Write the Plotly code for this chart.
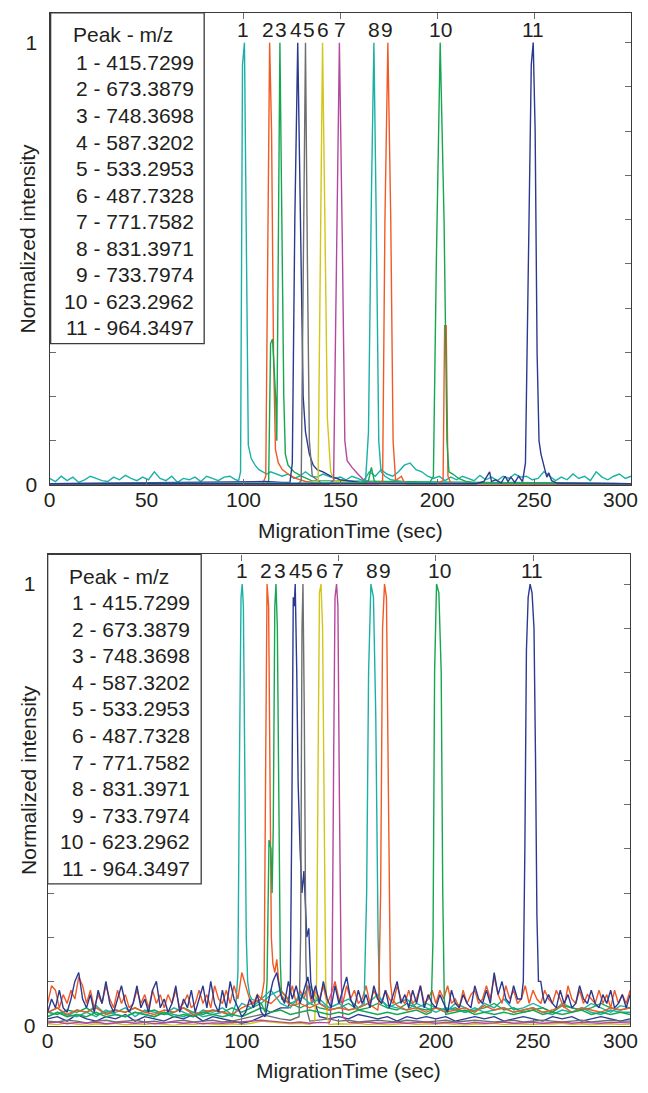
import plotly.graph_objects as go

# page is 648x1093; the html body keeps its default 8px margin, so the figure is 16px smaller
PAGE_W, PAGE_H = 648, 1093
OFF = 8
W, H = PAGE_W - 2 * OFF, PAGE_H - 2 * OFF
FONT = "Liberation Sans, Arial, sans-serif"
TXT = "#231f20"
FS = 21

peak_ids = ["1", "2", "3", "4", "5", "6", "7", "8", "9", "10", "11"]
mz_values = ["415.7299", "673.3879", "748.3698", "587.3202", "533.2953", "487.7328",
             "771.7582", "831.3971", "733.7974", "623.2962", "964.3497"]
label_t = [100.0, 112.7, 119.5, 127.2, 133.7, 141.2, 149.6, 167.2, 174.0, 201.7, 249.6]
colors = ["#1bb0a6", "#f15a24", "#15a650", "#2b3990", "#6d6e71", "#d2c619",
          "#b4489c", "#1bb0a6", "#f15a24", "#15a650", "#2b3990"]

x_ticks = [0, 50, 100, 150, 200, 250, 300]
x_ticktext = ["0", "50", "100", "150", "200", "250", ""]   # "300" is drawn as an edge label
x_last_label = "300"
y_ticks = [0, 0.1, 0.2, 0.3, 0.4, 0.5, 0.6, 0.7, 0.8, 0.9, 1.0]
y_ticktext = ["0", "", "", "", "", "", "", "", "", "", "1"]

# ---------------- TOP PANEL ----------------
T3 = list(range(0, 301, 3))
top_noise_teal = [
    0.015, 0.008, 0.02, 0.01, 0.018, 0.006, 0.012, 0.02, 0.015, 0.01,
    0.008, 0.018, 0.012, 0.022, 0.015, 0.01, 0.018, 0.012, 0.03, 0.015,
    0.01, 0.02, 0.006, 0.015, 0.012, 0.018, 0.008, 0.02, 0.015, 0.01,
    0.018, 0.02, 0.012, 0.02, 0.02, 0.02, 0.02, 0.02, 0.03, 0.025,
    0.02, 0.025, 0.015, 0.02, 0.03, 0.02, 0.018, 0.025, 0.02, 0.015,
    0.018, 0.012, 0.02, 0.015, 0.01, 0.03, 0.02, 0.035, 0.025, 0.02,
    0.03, 0.045, 0.05, 0.035, 0.03, 0.02, 0.015, 0.02, 0.01, 0.018,
    0.012, 0.02, 0.015, 0.01, 0.022, 0.012, 0.018, 0.01, 0.02, 0.015,
    0.025, 0.018, 0.02, 0.012, 0.015, 0.03, 0.02, 0.01, 0.018, 0.012,
    0.025, 0.015, 0.02, 0.01, 0.03, 0.018, 0.012, 0.02, 0.025, 0.015,
    0.02]

top_t = [
    [97.5, 98.5, 99.5, 100.5, 101.5, 102.5, 104, 106, 108, 110, 112],
    [0, 105, 110, 111.5, 112.5, 113.5, 114.5, 115.5, 116.5, 118, 120, 123, 127, 132, 140, 300],
    [0, 112, 113, 114, 115, 116.6, 117.2, 118, 118.8, 119.8, 120.8, 121.6, 123, 126, 130, 135, 300],
    [0, 111, 120, 124, 125.2, 126.5, 128, 129.5, 130.8, 132, 134, 136, 138, 141, 145, 150, 160, 170, 300],
    [0, 128, 129.8, 131, 132, 133, 134, 135.5, 140, 300],
    [0, 136, 138.5, 139.8, 140.8, 142, 143.3, 145, 147, 155, 300],
    [0, 144, 146.5, 148, 149.5, 151, 152.3, 153.5, 156, 159, 162, 166, 300],
    [0, 160, 163, 164.5, 166, 167.3, 168.5, 169.8, 171, 173, 176, 185, 300],
    [0, 170, 171.8, 173, 174.5, 176, 177.2, 178.5, 181.5, 182.5, 184, 200, 203, 203.8, 204.6, 205.5, 207, 300],
    [0, 160, 164.5, 166, 167.5, 169, 190, 196, 198, 199.5, 201.5, 203.5, 205, 206, 208, 211, 215, 220, 300],
    [0, 220, 224, 227, 228, 230, 233, 235, 236.5, 238, 240, 242, 244, 245.5, 247, 248.5, 249.5,
     250.5, 251.5, 252.5, 253.5, 255, 256.5, 257.5, 259, 262, 300],
]
top_v = [
    [0.01, 0.03, 0.95, 1.0, 0.55, 0.09, 0.06, 0.045, 0.035, 0.03, 0.025],
    [0.003, 0.003, 0.004, 0.02, 0.5, 1.0, 0.8, 0.3, 0.08, 0.05, 0.035, 0.025, 0.015, 0.008, 0.004, 0.003],
    [0.003, 0.003, 0.01, 0.32, 0.33, 0.2, 0.1, 0.6, 1.0, 0.6, 0.2, 0.07, 0.045, 0.03, 0.02, 0.01, 0.003],
    [0.003, 0.008, 0.006, 0.006, 0.05, 0.6, 1.0, 0.6, 0.2, 0.12, 0.07, 0.045, 0.035, 0.03, 0.02, 0.012, 0.006, 0.004, 0.003],
    [0.002, 0.002, 0.01, 0.6, 1.0, 0.5, 0.1, 0.02, 0.005, 0.002],
    [0.002, 0.002, 0.01, 0.6, 1.0, 0.6, 0.15, 0.03, 0.01, 0.004, 0.002],
    [0.002, 0.002, 0.01, 0.55, 1.0, 0.55, 0.1, 0.055, 0.04, 0.025, 0.012, 0.004, 0.002],
    [0.003, 0.005, 0.01, 0.12, 0.65, 1.0, 0.6, 0.1, 0.03, 0.02, 0.012, 0.006, 0.003],
    [0.003, 0.003, 0.01, 0.6, 1.0, 0.6, 0.1, 0.01, 0.02, 0.01, 0.003, 0.003, 0.01, 0.36, 0.36, 0.02, 0.004, 0.003],
    [0.003, 0.004, 0.01, 0.04, 0.01, 0.004, 0.004, 0.005, 0.02, 0.5, 1.0, 0.6, 0.1, 0.03, 0.025, 0.015, 0.008, 0.004, 0.003],
    [0.003, 0.003, 0.008, 0.03, 0.008, 0.012, 0.005, 0.02, 0.008, 0.018, 0.006, 0.02, 0.008, 0.05, 0.5,
     0.95, 1.0, 0.8, 0.3, 0.1, 0.07, 0.045, 0.018, 0.028, 0.01, 0.004, 0.003],
]

# ---------------- BOTTOM PANEL ----------------
T2 = list(range(0, 301, 2))
T5 = list(range(0, 301, 5))

bot_noise_navy11 = [
    0.03, 0.06, 0.04, 0.08, 0.04, 0.03, 0.06, 0.10, 0.12, 0.06,
    0.04, 0.07, 0.03, 0.08, 0.05, 0.10, 0.05, 0.03, 0.06, 0.09,
    0.05, 0.03, 0.05, 0.09, 0.04, 0.06, 0.03, 0.08, 0.10, 0.04,
    0.06, 0.03, 0.05, 0.09, 0.03, 0.06, 0.04, 0.08, 0.03, 0.06,
    0.09, 0.04, 0.10, 0.05, 0.03, 0.08, 0.04, 0.10, 0.06, 0.04,
    0.02, 0.03, 0.06, 0.04, 0.07, 0.03, 0.02, 0.06, 0.10, 0.12,
    0.07, 0.05, 0.10, 0.06, 0.09, 0.05, 0.08, 0.11, 0.06, 0.09,
    0.05, 0.10, 0.06, 0.04, 0.09, 0.05, 0.08, 0.11, 0.06, 0.04,
    0.08, 0.05, 0.07, 0.04, 0.09, 0.06, 0.05, 0.08, 0.04, 0.07,
    0.10, 0.05, 0.07, 0.04, 0.08, 0.05, 0.09, 0.04, 0.07, 0.05,
    0.04, 0.07, 0.05, 0.03, 0.08, 0.05, 0.04, 0.07, 0.05, 0.04,
    0.09, 0.06, 0.05, 0.08, 0.05, 0.12, 0.07, 0.10, 0.06, 0.05,
    0.09, 0.06, 0.05, 0.04, 0.05, 0.06, 0.05, 0.07, 0.05, 0.07,
    0.05, 0.04, 0.08, 0.05, 0.07, 0.04, 0.05, 0.09, 0.06, 0.05,
    0.08, 0.05, 0.04, 0.07, 0.05, 0.08, 0.04, 0.05, 0.07, 0.04,
    0.07]
bot_noise_orange2 = [
    0.05, 0.09, 0.08, 0.04, 0.07, 0.05, 0.08, 0.06, 0.11, 0.09,
    0.05, 0.08, 0.04, 0.07, 0.05, 0.09, 0.06, 0.04, 0.08, 0.05,
    0.07, 0.04, 0.05, 0.08, 0.05, 0.07, 0.04, 0.08, 0.05, 0.07,
    0.04, 0.07, 0.05, 0.08, 0.04, 0.05, 0.07, 0.04, 0.05, 0.08,
    0.05, 0.07, 0.04, 0.09, 0.06, 0.05, 0.08, 0.05, 0.09, 0.06,
    0.12, 0.09, 0.06, 0.05, 0.07, 0.06, 0.08, 0.10, 0.14, 0.12,
    0.09, 0.07, 0.06, 0.09, 0.05, 0.08, 0.06, 0.09, 0.05, 0.08,
    0.06, 0.09, 0.05, 0.07, 0.10, 0.06, 0.05, 0.09, 0.06, 0.08,
    0.05, 0.06, 0.09, 0.05, 0.08, 0.06, 0.05, 0.08, 0.06, 0.05,
    0.09, 0.06, 0.05, 0.08, 0.05, 0.06, 0.09, 0.05, 0.06, 0.08,
    0.05, 0.08, 0.06, 0.09, 0.05, 0.06, 0.04, 0.08, 0.05, 0.07,
    0.08, 0.05, 0.06, 0.09, 0.06, 0.11, 0.07, 0.05, 0.09, 0.06,
    0.08, 0.05, 0.06, 0.09, 0.05, 0.08, 0.06, 0.05, 0.08, 0.06,
    0.05, 0.08, 0.06, 0.04, 0.09, 0.06, 0.05, 0.08, 0.05, 0.07,
    0.06, 0.05, 0.08, 0.05, 0.07, 0.04, 0.08, 0.05, 0.07, 0.05,
    0.08]
bot_noise_teal1 = [
    0.03, 0.04, 0.02, 0.035, 0.03, 0.045, 0.025, 0.03, 0.04, 0.02,
    0.035, 0.03, 0.025, 0.04, 0.03, 0.02, 0.035, 0.03, 0.04, 0.025,
    0.08, 0.06, 0.05, 0.07, 0.08, 0.05, 0.06, 0.09, 0.05, 0.04,
    0.05, 0.06, 0.04, 0.05, 0.07, 0.04, 0.05, 0.06, 0.04, 0.05,
    0.04, 0.03, 0.05, 0.04, 0.03, 0.05, 0.04, 0.06, 0.035, 0.04,
    0.05, 0.04, 0.03, 0.05, 0.04, 0.035, 0.05, 0.04, 0.03, 0.045,
    0.04]
bot_noise_green3 = [
    0.03, 0.025, 0.035, 0.03, 0.04, 0.025, 0.03, 0.035, 0.03, 0.04,
    0.03, 0.035, 0.025, 0.03, 0.04, 0.03, 0.025, 0.035, 0.03, 0.04,
    0.03, 0.04, 0.05, 0.04, 0.06, 0.05, 0.04, 0.05, 0.04, 0.035,
    0.04, 0.05, 0.035, 0.04, 0.05, 0.04, 0.035, 0.05, 0.04, 0.035,
    0.04, 0.035, 0.04, 0.03, 0.035, 0.04, 0.05, 0.035, 0.04, 0.03,
    0.035, 0.04, 0.03, 0.045, 0.04, 0.035, 0.04, 0.05, 0.04, 0.035,
    0.04]
bot_noise_navy4 = [
    0.015, 0.02, 0.01, 0.025, 0.015, 0.01, 0.02, 0.015, 0.025, 0.01,
    0.02, 0.015, 0.01, 0.02, 0.015, 0.025, 0.01, 0.02, 0.015, 0.01,
    0.005, 0.01, 0.02, 0.03, 0.04, 0.03, 0.02, 0.025, 0.02, 0.015,
    0.02, 0.015, 0.025, 0.02, 0.015, 0.02, 0.01, 0.02, 0.015, 0.02,
    0.015, 0.02, 0.01, 0.015, 0.02, 0.015, 0.02, 0.01, 0.015, 0.02,
    0.015, 0.01, 0.02, 0.015, 0.02, 0.01, 0.015, 0.02, 0.015, 0.01,
    0.015]
bot_noise_gray5 = [
    0.01, 0.008, 0.012, 0.01, 0.006, 0.01, 0.012, 0.008, 0.01, 0.012,
    0.008, 0.01, 0.006, 0.01, 0.012, 0.008, 0.01, 0.012, 0.008, 0.01,
    0.015, 0.02, 0.025, 0.02, 0.015, 0.012, 0.015, 0.01, 0.012, 0.015,
    0.01, 0.012, 0.008, 0.01, 0.012, 0.01, 0.008, 0.012, 0.01, 0.008,
    0.01, 0.012, 0.008, 0.01, 0.012, 0.01, 0.008, 0.01, 0.012, 0.008,
    0.01, 0.012, 0.01, 0.008, 0.01, 0.012, 0.008, 0.01, 0.012, 0.01,
    0.01]
bot_noise_yellow6 = [
    0.004, 0.002, 0.006, 0.003, 0.0, 0.004, 0.002, 0.005, 0.001, 0.004,
    0.002, 0.005, 0.003, 0.0, 0.004, 0.002, 0.005, 0.003, 0.001, 0.004,
    0.002, 0.005, 0.01, 0.008, 0.006, 0.004, 0.005, 0.003, 0.004, 0.002,
    0.004, 0.003, 0.005, 0.002, 0.004, 0.001, 0.003, 0.005, 0.002, 0.004,
    0.003, 0.005, 0.002, 0.0, 0.004, 0.003, 0.005, 0.002, 0.004, 0.003,
    0.002, 0.004, 0.003, 0.005, 0.002, 0.004, 0.001, 0.003, 0.004, 0.002,
    0.003]
bot_noise_magenta7 = [
    0.006, 0.008, 0.004, 0.007, 0.005, 0.008, 0.004, 0.006, 0.008, 0.005,
    0.007, 0.004, 0.006, 0.008, 0.005, 0.007, 0.004, 0.006, 0.005, 0.007,
    0.008, 0.01, 0.012, 0.01, 0.008, 0.006, 0.008, 0.005, 0.007, 0.006,
    0.005, 0.007, 0.006, 0.008, 0.005, 0.006, 0.007, 0.005, 0.006, 0.008,
    0.005, 0.007, 0.006, 0.004, 0.007, 0.005, 0.006, 0.008, 0.005, 0.006,
    0.007, 0.005, 0.006, 0.008, 0.005, 0.007, 0.006, 0.005, 0.007, 0.006,
    0.006]
bot_noise_teal8 = [
    0.02, 0.03, 0.025, 0.02, 0.03, 0.02, 0.035, 0.025, 0.02, 0.03,
    0.025, 0.02, 0.03, 0.025, 0.02, 0.03, 0.02, 0.025, 0.03, 0.02,
    0.05, 0.04, 0.06, 0.08, 0.05, 0.04, 0.07, 0.05, 0.06, 0.04,
    0.05, 0.035, 0.04, 0.05, 0.03, 0.045, 0.04, 0.035, 0.05, 0.04,
    0.03, 0.04, 0.035, 0.03, 0.04, 0.03, 0.035, 0.04, 0.03, 0.035,
    0.04, 0.03, 0.025, 0.035, 0.03, 0.04, 0.03, 0.025, 0.035, 0.03,
    0.03]
bot_noise_orange9 = [
    0.03, 0.04, 0.025, 0.035, 0.03, 0.04, 0.025, 0.035, 0.03, 0.04,
    0.03, 0.025, 0.035, 0.03, 0.04, 0.025, 0.03, 0.035, 0.03, 0.025,
    0.04, 0.05, 0.06, 0.05, 0.07, 0.045, 0.05, 0.04, 0.05, 0.035,
    0.04, 0.035, 0.04, 0.05, 0.035, 0.04, 0.045, 0.035, 0.04, 0.03,
    0.04, 0.03, 0.035, 0.04, 0.03, 0.045, 0.035, 0.04, 0.03, 0.035,
    0.04, 0.03, 0.035, 0.045, 0.03, 0.04, 0.035, 0.03, 0.04, 0.035,
    0.04]
bot_noise_green10 = [
    0.02, 0.03, 0.02, 0.025, 0.02, 0.03, 0.02, 0.025, 0.02, 0.03,
    0.025, 0.02, 0.03, 0.02, 0.025, 0.02, 0.03, 0.025, 0.02, 0.025,
    0.02, 0.03, 0.04, 0.03, 0.035, 0.025, 0.03, 0.035, 0.03, 0.025,
    0.03, 0.025, 0.035, 0.03, 0.025, 0.03, 0.025, 0.03, 0.035, 0.025,
    0.03, 0.025, 0.03, 0.035, 0.025, 0.03, 0.025, 0.03, 0.025, 0.03,
    0.035, 0.025, 0.03, 0.025, 0.03, 0.035, 0.025, 0.03, 0.025, 0.03,
    0.025]

bot_noise = [
    (T5, bot_noise_teal1), (T2, bot_noise_orange2), (T5, bot_noise_green3),
    (T5, bot_noise_navy4), (T5, bot_noise_gray5), (T5, bot_noise_yellow6),
    (T5, bot_noise_magenta7), (T5, bot_noise_teal8), (T5, bot_noise_orange9),
    (T5, bot_noise_green10), (T2, bot_noise_navy11),
]

bot_peak_t = [
    [97, 98, 98.8, 99.6, 100.2, 100.8, 101.5, 102.3, 103, 104],
    [110, 111.5, 112.3, 113, 113.8, 114.5, 115.2, 116, 117, 118, 119, 120],
    [112, 113, 114, 115, 115.6, 116.2, 117, 117.6, 118.3, 119, 119.8, 120.5],
    [124, 125, 125.8, 126.5, 127, 127.5, 128.3, 129, 130, 131, 132, 133.5, 134.5, 135.5, 137],
    [129.5, 130.3, 131, 131.5, 132.2, 133, 133.8],
    [137.5, 138.5, 139.3, 140, 140.8, 141.6, 142.4, 143.2, 144],
    [145.5, 146.5, 147.3, 148, 148.8, 149.5, 150.3, 151.2, 152],
    [163, 164.3, 165.3, 166.5, 167.8, 169, 170.2, 171],
    [170.5, 171.5, 172.5, 173.5, 174.5, 175.5, 176.5, 177.5],
    [197.5, 198.5, 199.3, 200.3, 201.5, 202.7, 203.5, 204.3],
    [244, 245, 245.8, 246.6, 247.5, 248.5, 249.5, 250.5, 251.3, 252, 252.8, 254, 255],
]
bot_peak_v = [
    [0.05, 0.12, 0.6, 0.97, 1.0, 0.95, 0.6, 0.2, 0.1, 0.07],
    [0.06, 0.1, 0.6, 1.0, 0.95, 0.5, 0.2, 0.14, 0.12, 0.15, 0.1, 0.08],
    [0.03, 0.1, 0.42, 0.4, 0.3, 0.45, 0.95, 1.0, 0.9, 0.5, 0.15, 0.06],
    [0.04, 0.1, 0.5, 0.97, 0.95, 1.0, 0.8, 0.55, 0.4, 0.3, 0.35, 0.2, 0.22, 0.1, 0.06],
    [0.02, 0.2, 0.9, 1.0, 0.7, 0.15, 0.03],
    [0.01, 0.1, 0.6, 0.98, 1.0, 0.9, 0.5, 0.1, 0.02],
    [0.01, 0.1, 0.6, 0.97, 1.0, 0.95, 0.5, 0.1, 0.02],
    [0.05, 0.3, 0.8, 1.0, 0.97, 0.7, 0.2, 0.06],
    [0.05, 0.3, 0.9, 1.0, 0.97, 0.5, 0.1, 0.06],
    [0.03, 0.2, 0.8, 1.0, 0.98, 0.8, 0.3, 0.06],
    [0.06, 0.1, 0.4, 0.85, 0.97, 1.0, 0.98, 0.9, 0.6, 0.25, 0.1, 0.1, 0.07],
]


def merge(base_t, base_v, pk_t, pk_v):
    lo, hi = pk_t[0], pk_t[-1]
    pts = [(t, v) for t, v in zip(base_t, base_v) if t < lo or t > hi]
    pts += list(zip(pk_t, pk_v))
    pts.sort()
    return [p[0] for p in pts], [p[1] for p in pts]


fig = go.Figure()
LW = 1.4

for i in range(11):
    if i == 0:
        xs, ys = merge(T3, top_noise_teal, top_t[0], top_v[0])
    else:
        xs, ys = top_t[i], top_v[i]
    fig.add_trace(go.Scatter(x=xs, y=ys, mode="lines", line=dict(color=colors[i], width=LW),
                             xaxis="x", yaxis="y", showlegend=False, hoverinfo="skip"))

for i in range(11):
    bt, bv = bot_noise[i]
    xs, ys = merge(bt, bv, bot_peak_t[i], bot_peak_v[i])
    fig.add_trace(go.Scatter(x=xs, y=ys, mode="lines", line=dict(color=colors[i], width=LW),
                             xaxis="x2", yaxis="y2", showlegend=False, hoverinfo="skip"))


# page-pixel -> paper helpers
def fx(px):
    return (px - OFF) / W


def fy(py):
    return 1 - (py - OFF) / H


top_px = dict(l=44, r=631, t=13, b=490)
bot_px = dict(l=42, r=630, t=560, b=1036)

axis_common = dict(
    showline=True, linecolor="#3a3a3a", linewidth=1.3, mirror="ticks",
    ticks="inside", ticklen=6, tickwidth=1.2, tickcolor="#6a6a6a",
    showgrid=False, zeroline=False,
    tickfont=dict(family=FONT, size=FS, color=TXT),
)
ytop = (top_px["b"] - top_px["t"]) / (top_px["b"] - 43)
ybot = (bot_px["b"] - bot_px["t"]) / (bot_px["b"] - 590)

fig.update_layout(
    width=W, height=H, margin=dict(l=0, r=0, t=0, b=0),
    paper_bgcolor="white", plot_bgcolor="white",
    xaxis=dict(domain=[fx(top_px["l"]), fx(top_px["r"])], range=[0, 300], tickvals=x_ticks,
               ticktext=x_ticktext, anchor="y", ticklabelstandoff=-4, **axis_common),
    yaxis=dict(domain=[fy(top_px["b"]), fy(top_px["t"])], range=[0, ytop], tickvals=y_ticks,
               ticktext=y_ticktext, anchor="x", ticklabelstandoff=7, **axis_common),
    xaxis2=dict(domain=[fx(bot_px["l"]), fx(bot_px["r"])], range=[0, 300], tickvals=x_ticks,
                ticktext=x_ticktext, anchor="y2", ticklabelstandoff=-4, **axis_common),
    yaxis2=dict(domain=[fy(bot_px["b"]), fy(bot_px["t"])], range=[0, ybot], tickvals=y_ticks,
                ticktext=y_ticktext, anchor="x2", ticklabelstandoff=7, **axis_common),
)

annotations = []
shapes = []


def add_panel_text(xref, yref, p, title_y, ylab_y, box, head, first_row, row_h, right_x):
    for lab, t in zip(peak_ids, label_t):
        annotations.append(dict(x=t, y=1.03, xref=xref, yref=yref, text=lab, showarrow=False,
                                font=dict(family=FONT, size=FS, color=TXT),
                                xanchor="center", yanchor="middle"))
    # last x tick label, kept inside the figure's right edge
    annotations.append(dict(x=1.0, y=fy(p["b"] + 15), xref="paper", yref="paper",
                            text=x_last_label, showarrow=False,
                            font=dict(family=FONT, size=FS, color=TXT),
                            xanchor="right", yanchor="middle"))
    annotations.append(dict(x=fx((p["l"] + p["r"]) / 2 + 10), y=fy(title_y), xref="paper", yref="paper",
                            text="MigrationTime (sec)", showarrow=False,
                            font=dict(family=FONT, size=FS, color=TXT),
                            xanchor="center", yanchor="middle"))
    annotations.append(dict(x=fx(22), y=fy(ylab_y), xref="paper", yref="paper",
                            text="Normalized intensity", showarrow=False, textangle=-90,
                            font=dict(family=FONT, size=FS, color=TXT),
                            xanchor="center", yanchor="middle"))
    shapes.append(dict(type="rect", xref="paper", yref="paper",
                       x0=fx(box[0]), x1=fx(box[1]), y0=fy(box[3]), y1=fy(box[2]),
                       line=dict(color="#3a3a3a", width=1.3), fillcolor="white", layer="above"))
    annotations.append(dict(x=fx(head[0]), y=fy(head[1]), xref="paper", yref="paper",
                            text="Peak - m/z", showarrow=False,
                            font=dict(family=FONT, size=FS, color=TXT),
                            xanchor="left", yanchor="middle"))
    for k, (pid, mz) in enumerate(zip(peak_ids, mz_values)):
        annotations.append(dict(x=fx(right_x), y=fy(first_row + k * row_h),
                                xref="paper", yref="paper",
                                text=f"{pid} - {mz}", showarrow=False,
                                font=dict(family=FONT, size=FS, color=TXT),
                                xanchor="right", yanchor="middle"))


add_panel_text("x", "y", top_px, 536, 241, (45, 200, 13, 347), (66, 35), 63, 26.8, 192)
add_panel_text("x2", "y2", bot_px, 1081, 788, (42, 197, 560, 893), (62, 582), 609, 26.8, 188)

fig.update_layout(annotations=annotations, shapes=shapes)
fig.write_html("out.html", config={"displayModeBar": False})
